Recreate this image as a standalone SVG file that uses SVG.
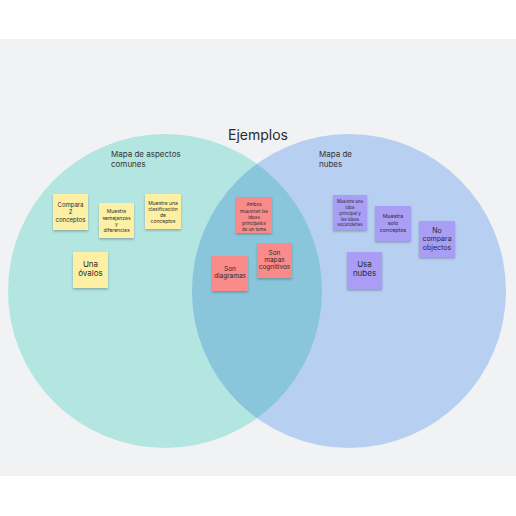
<svg xmlns="http://www.w3.org/2000/svg" width="516" height="516" viewBox="0 0 516 516">
<defs>
<style>
text{font-family:Inter,"Noto Sans","Liberation Sans",sans-serif;fill:#2b2b2b;text-anchor:middle;dominant-baseline:central}
.y{fill:#fdf0a4}
.p{fill:#f98c8b}
.v{fill:#a99df6}
.lbl{font-size:8px;text-anchor:start;fill:#333}
</style>
<filter id="sh" x="-20%" y="-20%" width="140%" height="150%">
<feDropShadow dx="0" dy="1.5" stdDeviation="1" flood-color="#000" flood-opacity="0.25"/>
</filter>
<clipPath id="cl"><circle cx="165" cy="291" r="157"/></clipPath>
</defs>
<rect x="0" y="39" width="516" height="437" fill="#f1f2f4"/>
<g id="circles">
<circle cx="165" cy="291" r="157" fill="#b3e6e0"/>
<circle cx="349" cy="291" r="157" fill="#b7cff1"/>
<circle cx="349" cy="291" r="157" fill="#89c6dc" clip-path="url(#cl)"/>
</g>
<text x="258" y="134" font-size="14" fill="#222">Ejemplos</text>
<text class="lbl" x="111" y="154">Mapa de aspectos</text>
<text class="lbl" x="111" y="164">comunes</text>
<text class="lbl" x="319" y="154">Mapa de</text>
<text class="lbl" x="319" y="164">nubes</text>
<g id="connectors"></g>
<g id="n1"><rect class="y" x="53" y="194" width="35" height="36" filter="url(#sh)"/>
<text font-size="6"><tspan x="70.5" y="204">Compara</tspan><tspan x="70.5" y="211">2</tspan><tspan x="70.5" y="218.5">conceptos</tspan></text></g>
<g id="n2"><rect class="y" x="99" y="203" width="35" height="35" filter="url(#sh)"/>
<text font-size="5"><tspan x="116.5" y="211">Muestra</tspan><tspan x="116.5" y="217.5">semejanzas</tspan><tspan x="116.5" y="224">y</tspan><tspan x="116.5" y="230">diferencias</tspan></text></g>
<g id="n3"><rect class="y" x="145" y="194" width="36" height="35" filter="url(#sh)"/>
<text font-size="5"><tspan x="163" y="202.5">Muestra una</tspan><tspan x="163" y="209">clasificación</tspan><tspan x="163" y="215">de</tspan><tspan x="163" y="221">conceptos</tspan></text></g>
<g id="n4"><rect class="y" x="73" y="252" width="35" height="36" filter="url(#sh)"/>
<text font-size="8"><tspan x="90.5" y="264">Una</tspan><tspan x="90.5" y="272.5">óvalos</tspan></text></g>
<g id="n5"><rect class="p" x="236" y="197" width="36" height="36" filter="url(#sh)"/>
<text font-size="4.6"><tspan x="254" y="204">Ambos</tspan><tspan x="254" y="210.5">muestran las</tspan><tspan x="254" y="216.5">ideas</tspan><tspan x="254" y="222.5">principales</tspan><tspan x="254" y="228.5">de un tema</tspan></text></g>
<g id="n6"><rect class="p" x="257" y="243" width="35" height="35" filter="url(#sh)"/>
<text font-size="6.5"><tspan x="274.5" y="253">Son</tspan><tspan x="274.5" y="260">mapas</tspan><tspan x="274.5" y="267">cognitivos</tspan></text></g>
<g id="n7"><rect class="p" x="212" y="256" width="36" height="35" filter="url(#sh)"/>
<text font-size="6.5"><tspan x="230" y="269">Son</tspan><tspan x="230" y="276">diagramas</tspan></text></g>
<g id="n8"><rect class="v" x="333" y="195" width="34" height="35" filter="url(#sh)"/>
<text font-size="4.4"><tspan x="350" y="201">Muestra una</tspan><tspan x="350" y="206.5">idea</tspan><tspan x="350" y="212.5">principal y</tspan><tspan x="350" y="218.5">las ideas</tspan><tspan x="350" y="224">secundarias</tspan></text></g>
<g id="n9"><rect class="v" x="375" y="206" width="36" height="35" filter="url(#sh)"/>
<text font-size="5.3"><tspan x="393" y="216">Muestra</tspan><tspan x="393" y="223">solo</tspan><tspan x="393" y="230">conceptos</tspan></text></g>
<g id="n10"><rect class="v" x="419" y="221" width="36" height="36" filter="url(#sh)"/>
<text font-size="7"><tspan x="437" y="229.5">No</tspan><tspan x="437" y="238">compara</tspan><tspan x="437" y="246.5">objectos</tspan></text></g>
<g id="n11"><rect class="v" x="347" y="252" width="35" height="37" filter="url(#sh)"/>
<text font-size="8"><tspan x="364.5" y="264">Usa</tspan><tspan x="364.5" y="272.5">nubes</tspan></text></g>
</svg>
